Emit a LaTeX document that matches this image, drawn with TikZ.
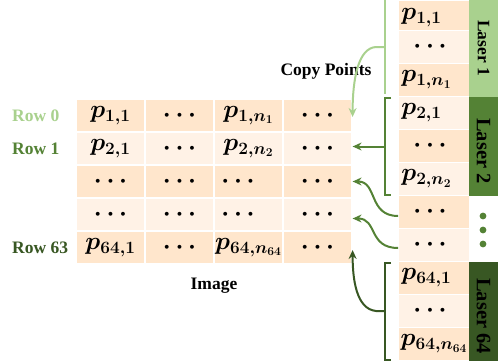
\documentclass[tikz,border=0pt]{standalone}
\usepackage[no-math]{fontspec}
\setmainfont{Liberation Serif}
\usepackage{bm}
\usetikzlibrary{arrows.meta}
\definecolor{peachA}{HTML}{FFE6CC}
\definecolor{peachB}{HTML}{FFF2E6}
\definecolor{gA}{HTML}{A9D18E}
\definecolor{gB}{HTML}{548235}
\definecolor{gC}{HTML}{385723}
\newcommand\mysz{\fontsize{26}{30}\selectfont}
\newcommand\lblsz{\fontsize{17.5}{20}\selectfont\bfseries}
\newcommand\lblbig{\fontsize{20.5}{24}\selectfont\bfseries}
\begin{document}
\begin{tikzpicture}[x=1pt,y=-1pt,
  cell/.style={draw=white,line width=1.2pt,minimum width=69pt,minimum height=33pt,inner sep=0pt,font=\mysz},
  ca/.style={cell,fill=peachA},
  cb/.style={cell,fill=peachB},
  rcell/.style={draw=white,line width=1.2pt,minimum width=70.6pt,minimum height=33pt,inner sep=0pt,font=\mysz},
  ra/.style={rcell,fill=peachA},
  rb/.style={rcell,fill=peachB},
  rtxt/.style={font=\mysz,inner sep=0pt,anchor=west,xshift=3pt},
  lbl/.style={font=\lblsz,inner sep=0pt},
  laser/.style={rotate=-90,minimum width=99pt,minimum height=28.7pt,inner sep=0pt,font=\lblbig},
  conn/.style={line width=2pt},
  arr/.style={conn,-{Stealth[length=9pt,width=8pt]}}
]
\useasboundingbox (0,0) rectangle (498,364);
% image grid
\node[ca] (g00) at (110.5,115.5) {$\bm{p_{1,1}}$};
\node[ca] (g01) at (179.5,115.5) {$\bm{\cdots}$};
\node[ca] (g02) at (248.5,115.5) {$\bm{p_{1,n_1}}$};
\node[ca] (g03) at (317.5,115.5) {$\bm{\cdots}$};
\node[cb] (g10) at (110.5,148.5) {$\bm{p_{2,1}}$};
\node[cb] (g11) at (179.5,148.5) {$\bm{\cdots}$};
\node[cb] (g12) at (248.5,148.5) {$\bm{p_{2,n_2}}$};
\node[cb] (g13) at (317.5,148.5) {$\bm{\cdots}$};
\node[ca] (g20) at (110.5,181.5) {$\bm{\cdots}$};
\node[ca] (g21) at (179.5,181.5) {$\bm{\cdots}$};
\node[ca] (g22) at (248.5,181.5) {};
\node[ca] (g23) at (317.5,181.5) {$\bm{\cdots}$};
\node[cb] (g30) at (110.5,214.5) {$\bm{\cdots}$};
\node[cb] (g31) at (179.5,214.5) {$\bm{\cdots}$};
\node[cb] (g32) at (248.5,214.5) {};
\node[cb] (g33) at (317.5,214.5) {$\bm{\cdots}$};
\node[ca] (g40) at (110.5,247.5) {$\bm{p_{64,1}}$};
\node[ca] (g41) at (179.5,247.5) {$\bm{\cdots}$};
\node[ca] (g42) at (248.5,247.5) {$\bm{p_{64,n_{64}}}$};
\node[ca] (g43) at (317.5,247.5) {$\bm{\cdots}$};
\node[font=\mysz,inner sep=0pt] (d22) at (238,181.5) {$\bm{\cdots}$};
\node[font=\mysz,inner sep=0pt] (d32) at (238,214.5) {$\bm{\cdots}$};
% row labels
\node[lbl,anchor=west,text=gA] (r0) at (12,115.5) {Row 0};
\node[lbl,anchor=west,text=gB] (r1) at (12,148.5) {Row 1};
\node[lbl,anchor=west,text=gC] (r63) at (12,247.5) {Row 63};
\node[lbl] (cp) at (326,71) {Copy Points};
\node[lbl] (img) at (214,286) {Image};
% right column
\node[ra,minimum height=30.5pt] (c0) at (434,15.25) {};
\node[rb] (c1) at (434,47) {\hspace{-8pt}$\bm{\cdots}$};
\node[ra] (c2) at (434,80) {};
\node[rb] (c3) at (434,113) {};
\node[ra] (c4) at (434,146) {\hspace{-8pt}$\bm{\cdots}$};
\node[rb] (c5) at (434,179) {};
\node[ra] (c6) at (434,212) {\hspace{-8pt}$\bm{\cdots}$};
\node[rb] (c7) at (434,245) {\hspace{-8pt}$\bm{\cdots}$};
\node[ra] (c8) at (434,278) {};
\node[rb] (c9) at (434,311) {\hspace{-8pt}$\bm{\cdots}$};
\node[ra] (c10) at (434,344) {$\bm{p_{64,n_{64}}}$};
\node[rtxt,yshift=-2.5pt] (t0) at (c0.west) {$\bm{p_{1,1}}$};
\node[rtxt] (t2) at (c2.west) {$\bm{p_{1,n_1}}$};
\node[rtxt] (t3) at (c3.west) {$\bm{p_{2,1}}$};
\node[rtxt] (t5) at (c5.west) {$\bm{p_{2,n_2}}$};
\node[rtxt] (t8) at (c8.west) {$\bm{p_{64,1}}$};
% lasers
\node[laser,fill=gA,font=\lblsz,minimum width=96.5pt] (L1) at (483.65,48.25) {Laser 1};
\node[laser,fill=gB] (L2) at (483.65,146) {\hspace{10pt}Laser 2};
\node[laser,fill=gC] (L64) at (483.65,311) {\hspace{10pt}Laser 64};
\fill[gB] (483,216) circle (3.4) (483,230) circle (3.4) (483,244) circle (3.4);
% brackets
\coordinate (b1) at (385,47);
\coordinate (b2) at (385,146.5);
\coordinate (b64) at (385,311);
\draw[conn,gA] (385,0) -- (385,94);
\draw[conn,gB] (391,98) -- (385,98) -- (385,195) -- (391,195);
\draw[conn,gC] (391,263) -- (385,263) -- (385,359.5) -- (391,359.5);
% arrows
\draw[arr,gA] (b1) -- ++(-9,0) .. controls ++(-18,1) and ([yshift=36pt]g03.east) .. ([yshift=-1.5pt]g03.east);
\draw[arr,gB] (b2) -- (b2 -| g13.east);
\draw[arr,gB] ([yshift=-4pt]c6.west) .. controls ++(-30,0) and ([xshift=25pt]g23.east) .. (g23.east);
\draw[arr,gB] ([yshift=-3pt]c7.west) .. controls ++(-30,0) and ([xshift=25pt,yshift=-4pt]g33.east) .. ([yshift=-4pt]g33.east);
\draw[arr,gC] (b64) -- ++(-9,0) .. controls ++(-20,-2) and ([yshift=-31pt]g43.east) .. ([yshift=-2.5pt]g43.east);
\end{tikzpicture}
\end{document}
